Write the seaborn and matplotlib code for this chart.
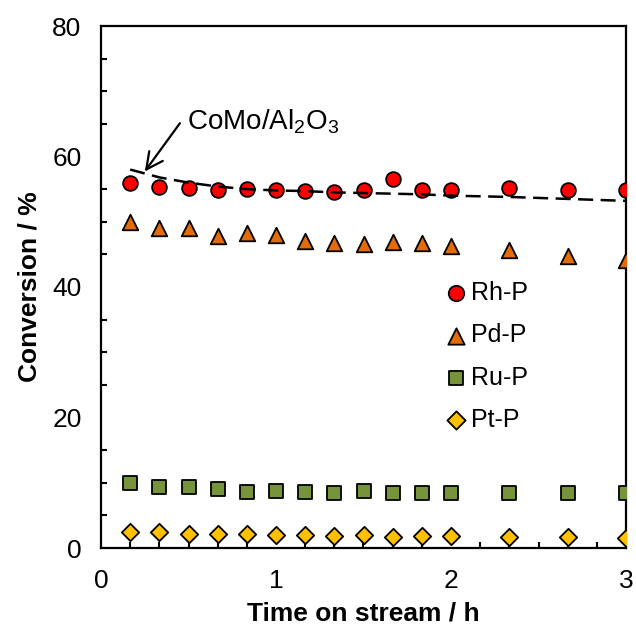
import numpy as np
import pandas as pd
import matplotlib
matplotlib.use("Agg")
import matplotlib.pyplot as plt
import seaborn as sns
from matplotlib.ticker import MultipleLocator

# Time on stream (h)
time_h = [1/6, 2/6, 3/6, 4/6, 5/6, 1.0, 7/6, 8/6, 1.5, 10/6, 11/6, 2.0, 7/3, 8/3, 3.0]

# Conversion (%) for each catalyst
rh_p = [56.0, 55.4, 55.1, 54.9, 55.0, 54.9, 54.7, 54.5, 54.8, 56.5, 54.9, 54.9, 55.1, 54.9, 54.9]
pd_p = [50.0, 49.0, 49.1, 47.8, 48.3, 47.9, 47.0, 46.7, 46.6, 46.9, 46.8, 46.3, 45.7, 44.8, 44.1]
ru_p = [10.0, 9.3, 9.3, 9.1, 8.6, 8.8, 8.6, 8.5, 8.7, 8.5, 8.4, 8.4, 8.4, 8.4, 8.4]
pt_p = [2.5, 2.4, 2.1, 2.1, 2.1, 2.0, 2.0, 1.9, 2.0, 1.7, 1.8, 1.8, 1.7, 1.7, 1.6]
como = [58.0, 56.8, 56.0, 55.4, 55.0, 54.8, 54.7, 54.5, 54.4, 54.3, 54.2, 54.0, 53.8, 53.5, 53.2]

labels = ["Rh-P", "Pd-P", "Ru-P", "Pt-P"]
colors = ["#FF0000", "#E36C0A", "#77933C", "#FFC000"]
markers = ["o", "^", "s", "D"]
sizes = [112, 125, 105, 78]

sns.set_theme(style="white")
plt.rcParams["font.family"] = ["Liberation Sans", "DejaVu Sans"]
plt.rcParams["mathtext.fontset"] = "custom"
plt.rcParams["mathtext.rm"] = "Liberation Sans"
plt.rcParams["text.color"] = "black"
plt.rcParams["axes.labelcolor"] = "black"
plt.rcParams["xtick.color"] = "black"
plt.rcParams["ytick.color"] = "black"

fig = plt.figure(figsize=(6.36, 6.33), dpi=100)
ax = fig.add_axes([101/636, 1 - 548/633, 525/636, 522/633])

series = [rh_p, pd_p, ru_p, pt_p]
handles = []
for lab, vals, col, mk, sz in zip(labels, series, colors, markers, sizes):
    df = pd.DataFrame({"time": time_h, "conv": vals})
    sns.scatterplot(data=df, x="time", y="conv", ax=ax, color=col, marker=mk,
                    s=sz, edgecolor="black", linewidth=1.3, zorder=3, legend=False)
    handles.append(ax.collections[-1])

df_como = pd.DataFrame({"time": time_h, "conv": como})
sns.lineplot(data=df_como, x="time", y="conv", ax=ax, color="black", lw=1.8,
             dashes=False, zorder=4, legend=False)
ax.lines[-1].set_dashes((6, 3))

# label for the CoMo/Al2O3 reference line, with its pointer arrow
ax.text(0.49, 65.3, "CoMo/Al$_\\mathregular{2}$O$_\\mathregular{3}$", fontsize=20,
        va="center", ha="left", color="black")
ax.annotate("", xy=(0.25, 57.7), xytext=(0.451, 65.1),
            arrowprops=dict(arrowstyle="->,head_length=1.0,head_width=0.5",
                            color="black", lw=1.6, shrinkA=0, shrinkB=0))

ax.set_xlim(0, 3)
ax.set_ylim(0, 80)
ax.xaxis.set_major_locator(MultipleLocator(1))
ax.xaxis.set_minor_locator(MultipleLocator(1/6))
ax.yaxis.set_major_locator(MultipleLocator(20))
ax.yaxis.set_minor_locator(MultipleLocator(5))
ax.tick_params(axis="both", which="both", direction="in", width=1.5, color="black",
               labelsize=19, labelcolor="black")
ax.tick_params(axis="x", which="both", length=4.5, pad=15, top=False)
ax.tick_params(axis="y", which="major", length=6.5, pad=14, right=False)
ax.tick_params(axis="y", which="minor", length=4.5, right=False)
ax.tick_params(axis="x", which="minor", bottom=True)
ax.tick_params(axis="y", which="minor", left=True)

for sp in ax.spines.values():
    sp.set_visible(True)
    sp.set_color("black")
    sp.set_linewidth(1.6)

ax.set_xlabel("Time on stream / h", fontsize=19, fontweight="bold", labelpad=6)
ax.set_ylabel("Conversion / %", fontsize=19, fontweight="bold", labelpad=8)

ax.legend(handles, labels, loc="center left", bbox_to_anchor=(0.662, 0.367),
          frameon=False, fontsize=18, handlelength=0.6, handletextpad=0.3,
          labelspacing=0.73, borderpad=0, borderaxespad=0, markerscale=1.05)

fig.savefig("out.png", dpi=100)
